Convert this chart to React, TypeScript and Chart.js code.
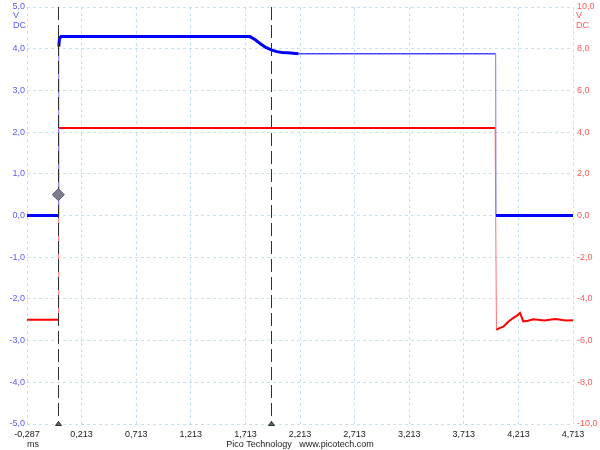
import React, { useEffect, useRef } from "react";
import { Chart, registerables } from "chart.js";

Chart.register(...registerables);

// ---- data ----
const xTickValues = [-0.287, 0.213, 0.713, 1.213, 1.713, 2.213, 2.713, 3.213, 3.713, 4.213, 4.713];
const xMin = -0.287;
const xMax = 4.713;

// channel A (blue, left axis, V)
const blueTimes = [-0.287, 0.002, 0.004, 0.01, 0.025, 1.755, 1.8, 1.85, 1.9, 1.95, 2.0, 2.05, 2.1, 2.2, 4.005, 4.008, 4.713];
const blueVolts = [0, 0, 4.05, 4.24, 4.29, 4.29, 4.22, 4.12, 4.03, 3.97, 3.93, 3.91, 3.9, 3.88, 3.88, 0, 0];

// channel B (red, right axis, V)
const redTimes = [-0.287, 0.0, 0.003, 3.995, 4.0, 4.012, 4.04, 4.075, 4.12, 4.164, 4.2, 4.228, 4.258, 4.3, 4.35, 4.45, 4.55, 4.65, 4.713];
const redVolts = [-5.0, -5.0, 4.2, 4.2, 4.2, -5.48, -5.4, -5.33, -5.1, -4.92, -4.8, -4.67, -5.08, -5.05, -4.98, -5.03, -4.97, -5.03, -5.02];

// rulers / trigger
const cursorTimes = [-0.006, 1.945];
const triggerTimes = [0.0];
const triggerLevels = [0.5];

const leftUnit = ["V", "DC"];
const rightUnit = ["V", "DC"];
const xUnit = "ms";
const footerText = "Pico Technology   www.picotech.com";

const FONT = "'Liberation Sans', Arial, sans-serif";
const FS = 9;

const fmt = (v: number, d: number) => v.toFixed(d).replace(".", ",").replace(/^-(0,0+)$/, "$1");

const overlay = {
  id: "overlay",
  afterDatasetDraw(chart: any, args: any) {
    if (args.index !== 1) return;
    const { ctx, chartArea, scales } = chart;
    ctx.save();
    ctx.strokeStyle = "#303030";
    ctx.lineWidth = 1;
    ctx.setLineDash([13, 5]);
    cursorTimes.forEach((t) => {
      const x = Math.round(scales.x.getPixelForValue(t)) + 0.5;
      ctx.beginPath();
      ctx.moveTo(x, chartArea.top);
      ctx.lineTo(x, chartArea.bottom);
      ctx.stroke();
    });
    ctx.setLineDash([]);
    ctx.fillStyle = "#606060";
    cursorTimes.forEach((t) => {
      const x = Math.round(scales.x.getPixelForValue(t)) + 0.5;
      const y = chartArea.bottom + 0.5;
      ctx.beginPath();
      ctx.moveTo(x, y - 3);
      ctx.lineTo(x - 3, y + 1);
      ctx.lineTo(x + 3, y + 1);
      ctx.closePath();
      ctx.fill();
      ctx.stroke();
    });
    ctx.restore();
  },
  afterDraw(chart: any) {
    const { ctx, chartArea } = chart;
    ctx.save();
    ctx.font = `${FS}px ${FONT}`;
    ctx.textBaseline = "alphabetic";
    ctx.textAlign = "left";
    ctx.fillStyle = "#5a5aff";
    ctx.fillText(leftUnit[0], 13, 18);
    ctx.fillText(leftUnit[1], 13, 28);
    ctx.fillStyle = "#ff5a5a";
    ctx.fillText(rightUnit[0], chartArea.right + 3, 18);
    ctx.fillText(rightUnit[1], chartArea.right + 3, 28);
    ctx.fillStyle = "#202020";
    ctx.fillText(xUnit, 27, 447);
    ctx.textAlign = "center";
    ctx.fillText(footerText, 300, 447);
    ctx.restore();
  },
};

export default function App() {
  const ref = useRef<HTMLCanvasElement | null>(null);

  useEffect(() => {
    document.body.style.margin = "0";
    const canvas = ref.current;
    if (!canvas) return;
    Chart.defaults.font.family = FONT;
    Chart.defaults.font.size = FS;

    const steep = (c: any) => Math.abs(c.p1.parsed.y - c.p0.parsed.y) > 1;
    const thinTail = (c: any) => c.p0.parsed.x >= 2.2 && c.p0.parsed.y > 1;

    const chart = new Chart(canvas, {
      type: "line",
      data: {
        datasets: [
          {
            label: "trigger",
            data: triggerTimes.map((t, i) => ({ x: t, y: triggerLevels[i] })),
            yAxisID: "y",
            showLine: false,
            pointStyle: "rectRot",
            pointRadius: 6,
            pointBackgroundColor: "#7c7c8c",
            pointBorderColor: "#5a5a78",
            pointBorderWidth: 1,
          },
          {
            label: "A",
            data: blueTimes.map((t, i) => ({ x: t, y: blueVolts[i] })),
            yAxisID: "y",
            borderColor: "#0000ff",
            borderWidth: 3,
            pointRadius: 0,
            tension: 0,
            segment: {
              borderWidth: (c: any) => (steep(c) ? 1 : thinTail(c) ? 1.5 : 3),
              borderColor: (c: any) => (steep(c) ? "#7878ff" : thinTail(c) ? "#4a4aff" : "#0000ff"),
            },
          },
          {
            label: "B",
            data: redTimes.map((t, i) => ({ x: t, y: redVolts[i] })),
            yAxisID: "y1",
            borderColor: "#ff0000",
            borderWidth: 2,
            pointRadius: 0,
            tension: 0,
            segment: {
              borderWidth: (c: any) => (steep(c) ? 1 : 2),
              borderColor: (c: any) => (steep(c) ? "#ff7070" : "#ff0000"),
            },
          },
        ],
      },
      options: {
        responsive: false,
        animation: false,
        events: [],
        layout: { padding: { top: 4, left: 0, right: 0, bottom: 0 } },
        plugins: { legend: { display: false }, tooltip: { enabled: false } },
        scales: {
          x: {
            type: "linear",
            min: xMin,
            max: xMax,
            afterBuildTicks: (s: any) => {
              s.ticks = xTickValues.map((v) => ({ value: v }));
            },
            afterFit: (s: any) => {
              s.height = 26;
              s.paddingLeft = 0;
              s.paddingRight = 0;
            },
            grid: { color: "#c4e2f0", lineWidth: 1, drawTicks: false },
            border: { display: false, dash: [3, 3] },
            ticks: {
              autoSkip: false,
              maxRotation: 0,
              padding: 5,
              color: "#202020",
              font: { size: FS, family: FONT },
              callback: (v: any) => fmt(Number(v), 3),
            },
          },
          y: {
            type: "linear",
            position: "left",
            min: -5,
            max: 5,
            afterFit: (s: any) => {
              s.width = 27;
              s.paddingTop = 0;
              s.paddingBottom = 0;
            },
            grid: { color: "#c4e2f0", lineWidth: 1, drawTicks: false },
            border: { display: false, dash: [3, 3] },
            ticks: {
              stepSize: 1,
              padding: 2,
              color: "#5a5aff",
              font: { size: FS, family: FONT },
              callback: (v: any) => fmt(Number(v), 1),
            },
          },
          y1: {
            type: "linear",
            position: "right",
            min: -10,
            max: 10,
            afterFit: (s: any) => {
              s.width = 27;
              s.paddingTop = 0;
              s.paddingBottom = 0;
            },
            grid: { display: false, drawTicks: false },
            border: { display: false },
            ticks: {
              stepSize: 2,
              padding: 4,
              color: "#ff5a5a",
              font: { size: FS, family: FONT },
              callback: (v: any) => fmt(Number(v), 1),
            },
          },
        },
      },
      plugins: [overlay],
    } as any);

    return () => chart.destroy();
  }, []);

  return (
    <div style={{ width: 600, height: 450, background: "#ffffff" }}>
      <canvas ref={ref} width={600} height={450} style={{ display: "block" }} />
    </div>
  );
}
